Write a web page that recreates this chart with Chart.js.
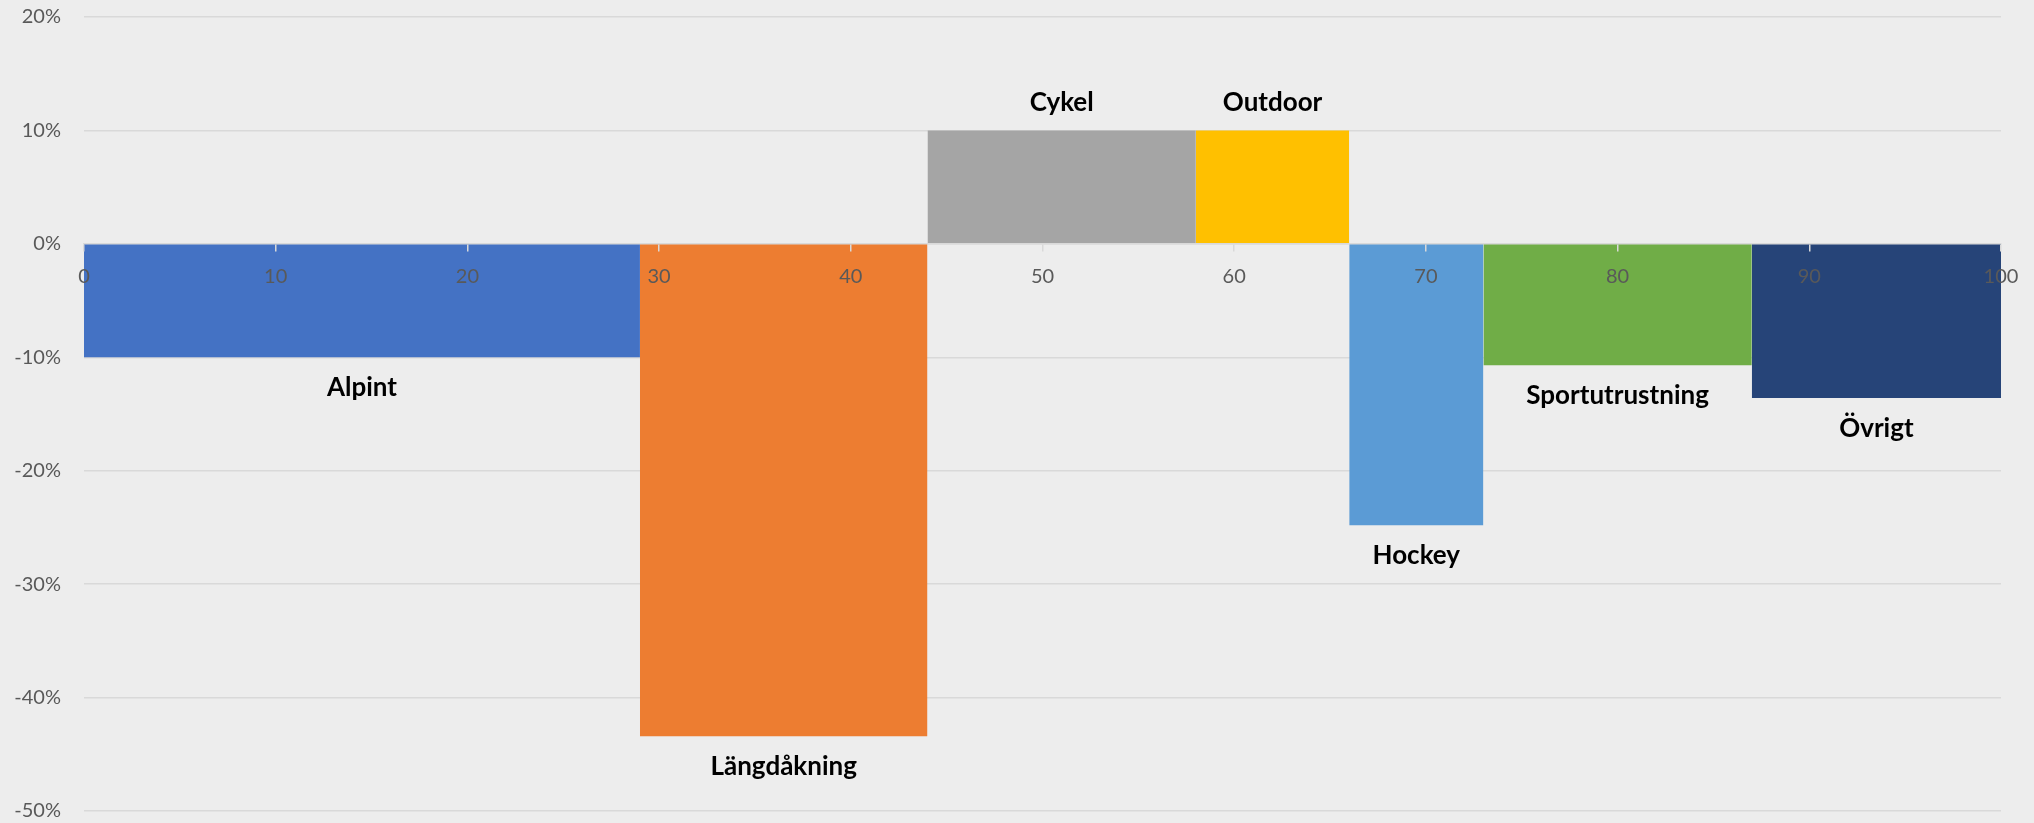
<!DOCTYPE html>
<html>
<head>
<meta charset="utf-8">
<script src="https://cdn.jsdelivr.net/npm/chart.js@4.4.1/dist/chart.umd.min.js"></script>
<style>
  html, body { margin: 0; padding: 0; background: #ededed; }
  #wrap { width: 2034px; height: 823px; }
</style>
</head>
<body>
<div id="wrap"><canvas id="grafico"></canvas></div>
<script>
// kategorier, andel (bredd på x-axeln) och förändring i procent
const kategorier = ['Alpint', 'Längdåkning', 'Cykel', 'Outdoor', 'Hockey', 'Sportutrustning', 'Övrigt'];
const andelar = [29, 15, 14, 8, 7, 14, 13];
const forandring = [-10, -43.4, 10, 10, -24.8, -10.7, -13.6];
const farger = ['#4472c4', '#ed7d31', '#a5a5a5', '#ffc000', '#5b9bd5', '#70ad47', '#264478'];
const yTicks = [20, 10, 0, -10, -20, -30, -40, -50];

// ett "block" per kategori: linje från start till slut, fylld mot noll
let start = 0;
const datasets = kategorier.map((namn, i) => {
  const slut = start + andelar[i];
  const ds = {
    label: namn,
    data: [{ x: start, y: forandring[i] }, { x: slut, y: forandring[i] }],
    backgroundColor: farger[i],
    borderColor: farger[i],
    borderWidth: 0,
    pointRadius: 0,
    fill: 'origin',
    tension: 0
  };
  start = slut;
  return ds;
});

const etiketter = {
  id: 'etiketter',
  afterDatasetsDraw(chart) {
    const { ctx, scales: { x, y } } = chart;
    ctx.save();
    ctx.font = 'bold 26px Lato, "Open Sans", sans-serif';
    ctx.fillStyle = '#000';
    ctx.textAlign = 'center';
    ctx.textBaseline = 'middle';
    chart.data.datasets.forEach(ds => {
      const p0 = ds.data[0], p1 = ds.data[1];
      const cx = (x.getPixelForValue(p0.x) + x.getPixelForValue(p1.x)) / 2;
      const py = y.getPixelForValue(p0.y);
      const ty = p0.y >= 0 ? py - 28 : py + 30;
      ctx.fillText(ds.label, cx, ty);
    });
    ctx.restore();
  }
};

const ctx = document.getElementById('grafico').getContext('2d');
new Chart(ctx, {
  type: 'line',
  data: { datasets },
  options: {
    responsive: true,
    maintainAspectRatio: false,
    animation: false,
    layout: { padding: { top: 17, right: 33, bottom: 11, left: 0 } },
    plugins: {
      legend: { display: false },
      tooltip: { enabled: false }
    },
    scales: {
      x: {
        type: 'linear',
        position: { y: 0 },
        min: 0,
        max: 100,
        ticks: {
          z: 1,
          stepSize: 10,
          color: '#595959',
          font: { family: 'Lato, "Open Sans", sans-serif', size: 20 },
          padding: 14,
          maxRotation: 0
        },
        grid: { z: 1, drawOnChartArea: false, drawTicks: true, tickLength: 7, tickColor: '#d9d9d9', lineWidth: 1.5 },
        border: { z: 1, display: true, color: '#d9d9d9', width: 1.5 }
      },
      y: {
        min: -50,
        max: 20,
        afterFit: s => { s.width = 84; },
        afterBuildTicks: s => { s.ticks = yTicks.map(v => ({ value: v })); },
        ticks: {
          color: '#595959',
          font: { family: 'Lato, "Open Sans", sans-serif', size: 20 },
          padding: 0,
          callback: v => v + '%'
        },
        grid: { color: '#d9d9d9', lineWidth: 1.5, drawTicks: true, tickLength: 23, tickColor: 'rgba(0,0,0,0)' },
        border: { display: false }
      }
    }
  },
  plugins: [etiketter]
});
</script>
</body>
</html>
